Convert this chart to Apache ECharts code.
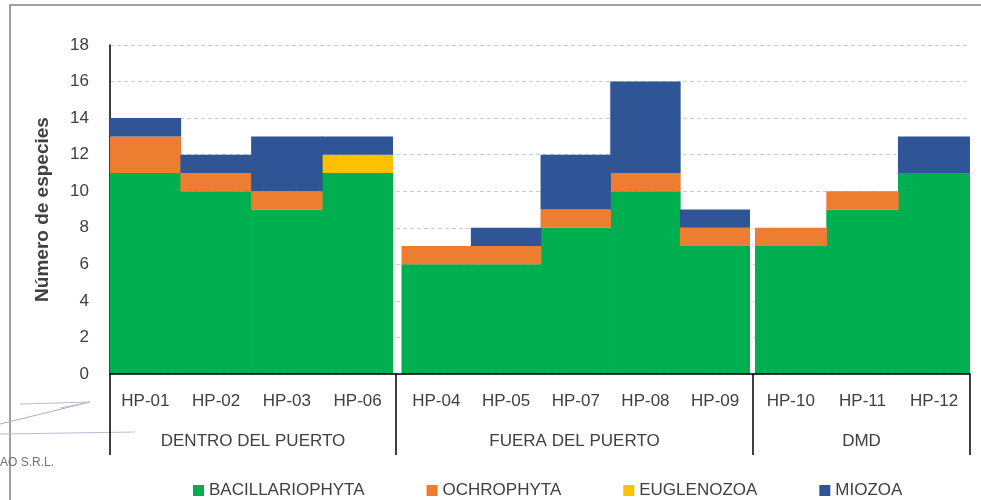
<!DOCTYPE html>
<html>
<head>
<meta charset="utf-8">
<script src="https://cdn.jsdelivr.net/npm/echarts@6/dist/echarts.min.js"></script>
<style>html,body{margin:0;padding:0;background:#fff}#c{width:981px;height:500px}</style>
</head>
<body>
<div id="c"></div>
<script>
const categories = ['HP-01','HP-02','HP-03','HP-06','HP-04','HP-05','HP-07','HP-08','HP-09','HP-10','HP-11','HP-12'];
const groupNames = ['DENTRO DEL PUERTO','FUERA DEL PUERTO','DMD'];
const groupSizes = [4,5,3];
const seriesNames = ['BACILLARIOPHYTA','OCHROPHYTA','EUGLENOZOA','MIOZOA'];
const bacillariophyta = [11,10,9,11,6,6,8,10,7,7,9,11];
const ochrophyta      = [2,1,1,0,1,1,1,1,1,1,1,0];
const euglenozoa      = [0,0,0,1,0,0,0,0,0,0,0,0];
const miozoa          = [1,1,3,1,0,1,3,5,1,0,0,2];
const yTicks = [0,2,4,6,8,10,12,14,16,18];

(function () {
const seriesValues = [bacillariophyta, ochrophyta, euglenozoa, miozoa];
const colors = ['#00B050','#ED7D31','#FFC000','#2F5597'];
const font = 'Liberation Sans, Arial, sans-serif';
const txt = '#404040';

const gTop = 45, gBottom = 126;
const axisGrids = [[110,396],[396,753],[753,970]];
const barGrids = [[110,393],[401.5,750],[755,970]];
const W = 981;
const yMin = yTicks[0], yMax = yTicks[yTicks.length - 1], yStep = yTicks[1] - yTicks[0];

const grid = [], xAxis = [], yAxis = [], series = [];
let start = 0;
groupSizes.forEach((n, g) => {
  const cats = categories.slice(start, start + n);
  const ag = grid.length;
  grid.push({left: axisGrids[g][0], right: W - axisGrids[g][1], top: gTop, bottom: gBottom, outerBoundsMode: 'none'});
  xAxis.push({
    type: 'category', gridIndex: ag, data: [groupNames[g]], boundaryGap: true, z: 10,
    axisLine: {show: true, lineStyle: {color: '#000', width: 1.5}},
    axisTick: {show: true, length: 81, lineStyle: {color: '#000', width: 1.5}},
    axisLabel: {margin: 59, fontSize: 17, color: txt, fontFamily: font}
  });
  yAxis.push({
    type: 'value', gridIndex: ag, min: yMin, max: yMax, interval: yStep,
    axisLine: {show: g === 0, lineStyle: {color: '#000', width: 1.5}},
    axisTick: {show: false},
    axisLabel: {show: g === 0, fontSize: 17, color: txt, fontFamily: font, margin: 21},
    splitLine: {show: true, lineStyle: {color: '#cccccc', type: [4,3], width: 1}},
    name: g === 0 ? 'Número de especies' : '',
    nameLocation: 'middle', nameGap: 58,
    nameTextStyle: {fontSize: 19, fontWeight: 'bold', color: txt, fontFamily: font}
  });
  const bg = grid.length;
  grid.push({left: barGrids[g][0], right: W - barGrids[g][1], top: gTop, bottom: gBottom, outerBoundsMode: 'none'});
  xAxis.push({
    type: 'category', gridIndex: bg, data: cats,
    axisLine: {show: false}, axisTick: {show: false},
    axisLabel: {margin: 19, fontSize: 17, color: txt, fontFamily: font, interval: 0}
  });
  yAxis.push({type: 'value', gridIndex: bg, min: yMin, max: yMax, interval: yStep, show: false, splitLine: {show: false}});
  seriesNames.forEach((name, s) => {
    series.push({
      name, type: 'bar', stack: 'g' + g, xAxisIndex: bg, yAxisIndex: bg,
      barWidth: '101%', barGap: 0,
      itemStyle: {color: colors[s]},
      data: seriesValues[s].slice(start, start + n)
    });
  });
  start += n;
});

const chart = echarts.init(document.getElementById('c'), null, {renderer: 'canvas'});
chart.setOption({
  animation: false,
  color: colors,
  grid, xAxis, yAxis, series,
  legend: {
    data: seriesNames, left: 188, top: 477,
    icon: 'rect', itemWidth: 11, itemHeight: 11, itemGap: 62,
    textStyle: {fontSize: 17, color: txt, fontFamily: font}
  },
  graphic: [
    {type: 'rect', shape: {x: 10, y: 5, width: 1100, height: 700}, style: {fill: 'none', stroke: '#808080', lineWidth: 1.5}, silent: true},
    {type: 'polyline', shape: {points: [[0,424],[90,402]]}, style: {stroke: '#a8b0c8', lineWidth: 1, fill: 'none'}, silent: true},
    {type: 'polyline', shape: {points: [[0,434],[135,432]]}, style: {stroke: '#b8bcd0', lineWidth: 1, fill: 'none'}, silent: true},
    {type: 'polyline', shape: {points: [[20,404],[90,402],[60,408]]}, style: {stroke: '#b8bcd0', lineWidth: 1, fill: 'none'}, silent: true},
    {type: 'text', left: 0, top: 457, style: {text: 'AO S.R.L.', fontSize: 12, fill: '#707070', fontFamily: font}, silent: true}
  ]
});
})();
</script>
</body>
</html>
